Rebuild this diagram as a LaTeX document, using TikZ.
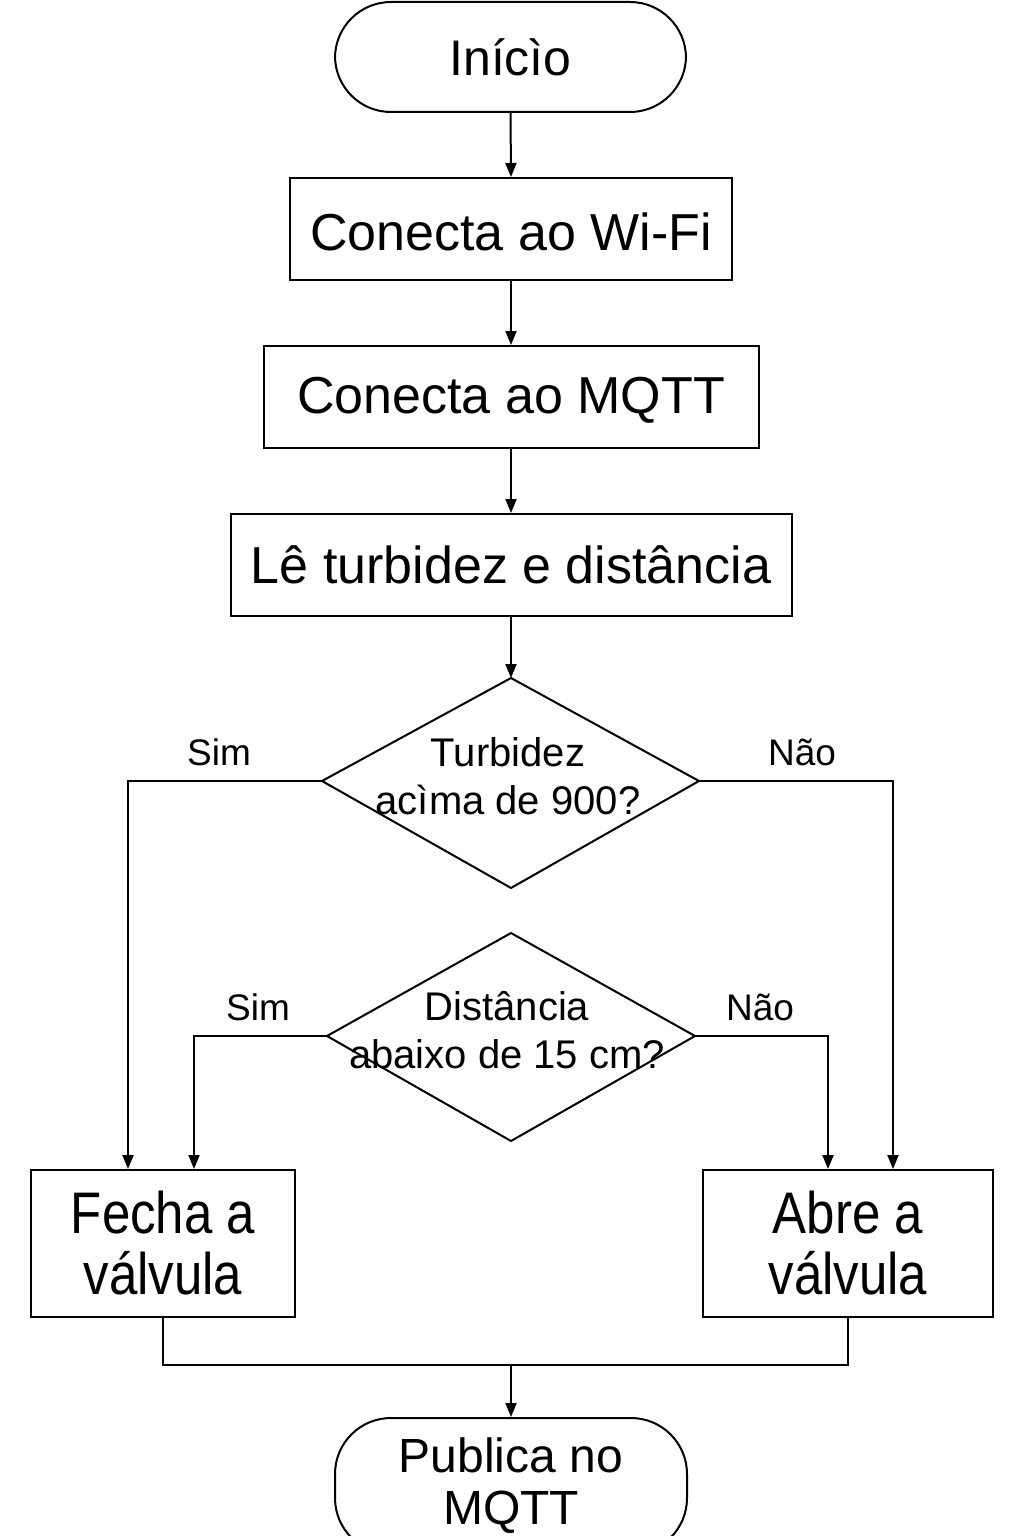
\documentclass[tikz,border=0pt]{standalone}
\usepackage{fontspec}
\setmainfont{Liberation Sans}
\usetikzlibrary{arrows.meta}
\begin{document}
\begin{tikzpicture}[x=1pt,y=-1pt,
  line width=2pt,
  arr/.style={-{Triangle[length=14pt,width=11pt]}},
  box/.style={draw, rectangle, inner sep=0pt, align=center},
  term/.style={draw, rectangle, rounded corners=56pt, inner sep=0pt, align=center},
  big/.style={font=\fontsize{52}{58}\selectfont},
  mid/.style={font=\fontsize{40}{48}\selectfont},
  lab/.style={font=\fontsize{37}{40}\selectfont},
]
\useasboundingbox (0,0) rectangle (1024,1536);

\node[term, minimum width=351pt, minimum height=110pt, font=\fontsize{50}{56}\selectfont] (inicio) at (510.5,57) {Inícìo};
\node[box, big, minimum width=442pt, minimum height=102pt] (b1) at (511,229) {\raisebox{0pt}[\dimexpr\height+6pt][\depth]{Conecta ao Wi-Fi}};
\node[box, big, minimum width=495pt, minimum height=102pt] (b2) at (511,397) {\raisebox{0pt}[\dimexpr\height+6pt][\depth]{Conecta ao MQTT}};
\node[box, big, minimum width=561pt, minimum height=102pt] (b3) at (511,565) {Lê turbidez e distância};

% diamond 1
\coordinate (d1t) at (511,678);
\coordinate (d1r) at (699,781);
\coordinate (d1b) at (511,888);
\coordinate (d1l) at (322,781);
\draw (d1t) -- (d1r) -- (d1b) -- (d1l) -- cycle;
\node[mid, align=center, inner sep=0pt] (t1) at (508,776) {Turbidez\\acìma de 900?};

% diamond 2
\coordinate (d2t) at (511,933);
\coordinate (d2r) at (695,1036);
\coordinate (d2b) at (511,1141);
\coordinate (d2l) at (327,1036);
\draw (d2t) -- (d2r) -- (d2b) -- (d2l) -- cycle;
\node[mid, align=center, inner sep=0pt] (t2) at (507,1030) {Distância\\abaixo de 15 cm?};

% action boxes
\node[box, minimum width=264pt, minimum height=147pt] (fecha) at (163,1243.5)
  {\scalebox{1}[1.15]{\fontsize{51}{50.4}\selectfont\raisebox{0pt}[\dimexpr\height+14pt][\depth]{\begin{tabular}{@{}c@{}}Fecha a\\válvula\end{tabular}}}};
\node[box, minimum width=290pt, minimum height=147pt] (abre) at (848,1243.5)
  {\scalebox{1}[1.15]{\fontsize{51}{50.4}\selectfont\raisebox{0pt}[\dimexpr\height+14pt][\depth]{\begin{tabular}{@{}c@{}}Abre a\\válvula\end{tabular}}}};

\node[term, minimum width=352pt, minimum height=136pt, font=\fontsize{48}{52}\selectfont] (pub) at (511,1486) {Publica no\\MQTT};

% connectors
\draw[arr] (inicio.south) -- (b1.north);
\draw[arr] (b1.south) -- (b2.north);
\draw[arr] (b2.south) -- (b3.north);
\draw[arr] (b3.south) -- (d1t);

\draw[arr] (d1l) -| ([xshift=-35pt]fecha.north);
\draw[arr] (d1r) -| ([xshift=45pt]abre.north);
\draw[arr] (d2l) -| ([xshift=31pt]fecha.north);
\draw[arr] (d2r) -| ([xshift=-20pt]abre.north);

\node[lab] (s1) at (219,752) {Sim};
\node[lab] (n1) at (802,752) {Não};
\node[lab] (s2) at (258,1007) {Sim};
\node[lab] (n2) at (760,1007) {Não};

\coordinate (m) at (511,1365);
\draw (fecha.south) |- (m) -| (abre.south);
\draw[arr] (m) -- (pub.north);
\end{tikzpicture}
\end{document}
